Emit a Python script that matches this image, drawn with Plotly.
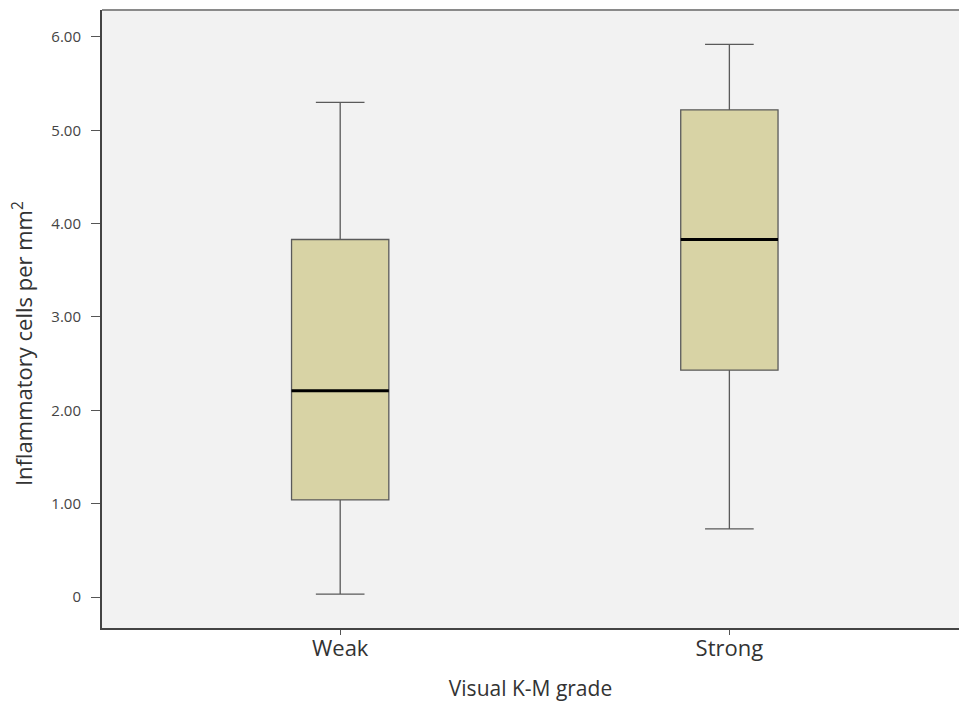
import plotly.graph_objects as go

# Five-number summaries per visual K-M grade
categories = ["Weak", "Strong"]
whisker_low = [0.03, 0.73]
q1 = [1.04, 2.43]
median = [2.21, 3.83]
q3 = [3.83, 5.22]
whisker_high = [5.30, 5.92]

y_tickvals = [0, 1, 2, 3, 4, 5, 6]
y_ticktext = ["0", "1.00", "2.00", "3.00", "4.00", "5.00", "6.00"]

BOX_WIDTH = 0.25
FILL = "#D8D3A5"
EDGE = "#5a5a5a"
TEXT = "#333333"

positions = list(range(len(categories)))

fig = go.Figure()
fig.add_trace(go.Box(
    x=positions,
    q1=q1, median=median, q3=q3,
    lowerfence=whisker_low, upperfence=whisker_high,
    width=BOX_WIDTH,
    whiskerwidth=0.5,
    fillcolor=FILL,
    line=dict(color=EDGE, width=1.3),
    boxpoints=False,
    hoverinfo="skip",
    showlegend=False,
))

# Heavy median bars drawn over each box
for pos, med in zip(positions, median):
    fig.add_trace(go.Scatter(
        x=[pos - BOX_WIDTH / 2, pos + BOX_WIDTH / 2],
        y=[med, med],
        mode="lines",
        line=dict(color="black", width=3.2),
        hoverinfo="skip",
        showlegend=False,
    ))

fig.update_layout(
    width=959, height=709,
    margin=dict(l=102, r=0, t=10, b=81),
    paper_bgcolor="white",
    plot_bgcolor="#F2F2F2",
    font=dict(family="Open Sans", color=TEXT),
    xaxis=dict(
        range=[-0.612, 1.59],
        tickvals=positions, ticktext=categories,
        tickfont=dict(size=22, color=TEXT),
        ticks="outside", ticklen=5, tickcolor="#555", tickwidth=1,
        ticklabelstandoff=-5,
        showgrid=False, zeroline=False,
        showline=True, linecolor="#444", linewidth=2,
        title=dict(text="Visual K-M grade", font=dict(size=21, color=TEXT), standoff=20),
    ),
    yaxis=dict(
        range=[-0.332, 6.289],
        tickvals=y_tickvals, ticktext=y_ticktext,
        tickfont=dict(size=15, color="#444"),
        ticks="outside", ticklen=9, tickcolor="#555", tickwidth=1.3,
        ticklabelstandoff=7,
        showgrid=False, zeroline=False,
        showline=True, linecolor="#444", linewidth=2,
    ),
    annotations=[dict(
        text="Inflammatory cells per mm<sup>2</sup>",
        xref="paper", yref="paper", x=-0.0934, y=0.461, xanchor="center", yanchor="middle",
        textangle=-90, showarrow=False,
        font=dict(size=22, color=TEXT),
    )],
    shapes=[dict(
        type="line", xref="paper", yref="paper", x0=0, x1=1, y0=1, y1=1,
        line=dict(color="#8a8a8a", width=2),
    )],
)

fig.write_html("out.html")
